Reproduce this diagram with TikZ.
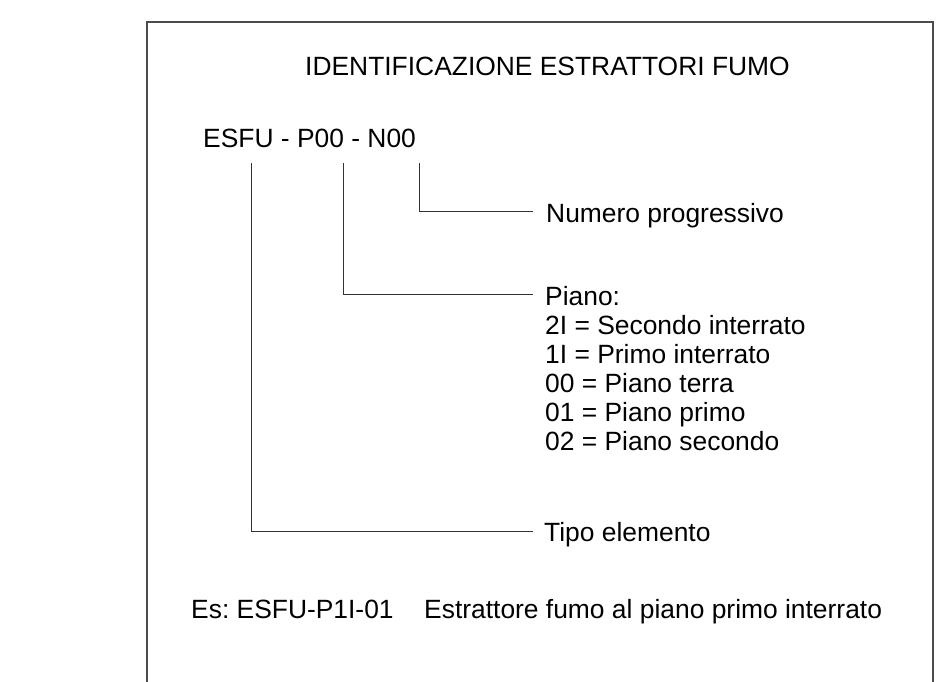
\documentclass[tikz,border=0pt]{standalone}
\usepackage{fontspec}
\setmainfont{Liberation Sans}
\frenchspacing
\begin{document}
\begin{tikzpicture}[x=1pt,y=-1pt,
  lbl/.style={anchor=base west, inner sep=0pt, font=\fontsize{26.4}{29}\selectfont},
  conn/.style={line width=1pt, draw=black!80},
  frame/.style={line width=1.5pt, draw=black!70}]
\useasboundingbox (0,0) rectangle (945,682);
\draw[frame] (147,683) -- (147,22) -- (933,22) -- (933,683);
\node[lbl] (title) at (305,76) {IDENTIFICAZIONE ESTRATTORI FUMO};
\node[lbl] (code) at (203,147) {ESFU - P00 - N00};
\coordinate (ta) at (251,163);
\coordinate (tb) at (343,163);
\coordinate (tc) at (419,163);
\node[lbl] (num) at (546,222) {Numero progressivo};
\node[lbl] (p0) at (545,305) {Piano:};
\node[lbl] (p1) at (545,334) {2I = Secondo interrato};
\node[lbl] (p2) at (545,363) {1I = Primo interrato};
\node[lbl] (p3) at (545,392) {00 = Piano terra};
\node[lbl] (p4) at (545,421) {01 = Piano primo};
\node[lbl] (p5) at (545,450) {02 = Piano secondo};
\node[lbl] (tipo) at (544,541) {Tipo elemento};
\node[lbl] (es) at (191,618) {Es: ESFU-P1I-01};
\node[lbl] (esd) at (424,618) {Estrattore fumo al piano primo interrato};
\draw[conn] (tc) |- ([shift={(-13pt,10.5pt)}]num.base west);
\draw[conn] (tb) |- ([shift={(-12pt,11pt)}]p0.base west);
\draw[conn] (ta) |- ([shift={(-11pt,9.5pt)}]tipo.base west);
\end{tikzpicture}
\end{document}
